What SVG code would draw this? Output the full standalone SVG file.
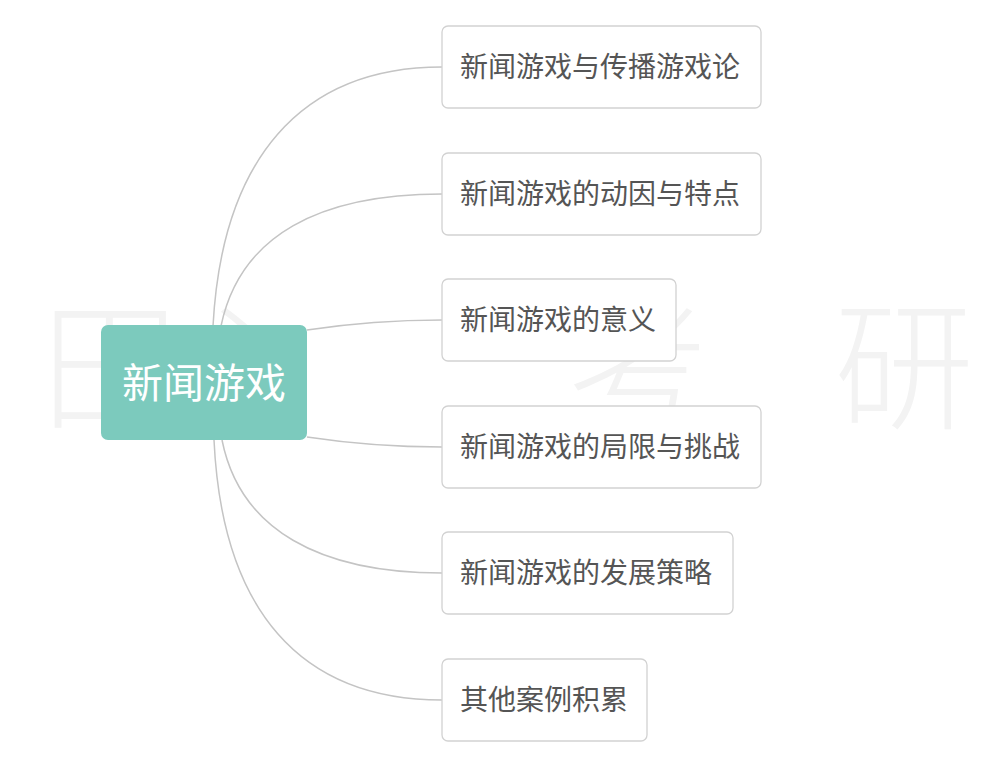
<svg xmlns="http://www.w3.org/2000/svg" width="1000" height="772" viewBox="0 0 1000 772">
<style>
.wm{font-family:"Noto Sans CJK SC","Noto Sans",sans-serif;font-size:140px;font-weight:300;fill:#f3f3f3}
.box{fill:#ffffff;stroke:#d2d2d2;stroke-width:1.3}
.lbl{font-family:"Noto Sans CJK SC","Noto Sans",sans-serif;font-size:28px;fill:#555555}
.conn{fill:none;stroke:#c4c4c4;stroke-width:1.5}
</style>
<rect width="1000" height="772" fill="#ffffff"/>
<g id="watermark">
<text class="wm" x="40" y="418">田</text>
<text class="wm" x="172" y="418">心</text>
<text class="wm" x="568" y="418">考</text>
<text class="wm" x="834" y="418">研</text>
</g>
<g id="connectors">
<path class="conn" d="M213,326 C222,160 300,67 442,67"/>
<path class="conn" d="M221,326 C240,235 320,194 442,194"/>
<path class="conn" d="M307,330 C360,322 400,320 442,320"/>
<path class="conn" d="M307,437 C360,445 400,447 442,447"/>
<path class="conn" d="M222,440 C240,530 320,573 442,573"/>
<path class="conn" d="M214,440 C222,610 300,700 442,700"/>
</g>
<g id="root">
<rect x="101" y="325" width="206" height="115" rx="7" fill="#7ccabd"/>
<text x="204" y="398" text-anchor="middle" font-family="'Noto Sans CJK SC','Noto Sans',sans-serif" font-size="41" fill="#ffffff">新闻游戏</text>
</g>
<g id="n1">
<rect class="box" x="442" y="26" width="319" height="82" rx="6"/>
<text class="lbl" x="460" y="77">新闻游戏与传播游戏论</text>
</g>
<g id="n2">
<rect class="box" x="442" y="153" width="319" height="82" rx="6"/>
<text class="lbl" x="460" y="204">新闻游戏的动因与特点</text>
</g>
<g id="n3">
<rect class="box" x="442" y="279" width="234" height="82" rx="6"/>
<text class="lbl" x="460" y="330">新闻游戏的意义</text>
</g>
<g id="n4">
<rect class="box" x="442" y="406" width="319" height="82" rx="6"/>
<text class="lbl" x="460" y="457">新闻游戏的局限与挑战</text>
</g>
<g id="n5">
<rect class="box" x="442" y="532" width="291" height="82" rx="6"/>
<text class="lbl" x="460" y="583">新闻游戏的发展策略</text>
</g>
<g id="n6">
<rect class="box" x="442" y="659" width="205" height="82" rx="6"/>
<text class="lbl" x="460" y="710">其他案例积累</text>
</g>
</svg>
